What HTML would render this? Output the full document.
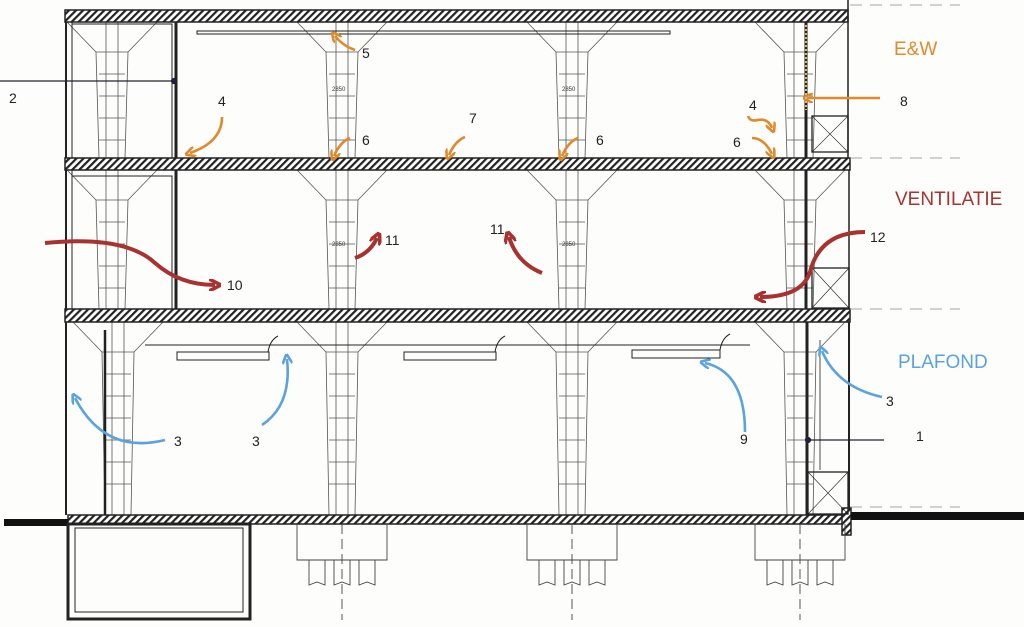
<!DOCTYPE html>
<html><head><meta charset="utf-8"><style>
html,body{margin:0;padding:0;background:#fdfdfb;}
svg{display:block}
text{font-family:"Liberation Sans","DejaVu Sans",sans-serif;}
</style></head><body>
<svg id="s" width="1024" height="627" viewBox="0 0 1024 627" xmlns="http://www.w3.org/2000/svg">
<defs>
<pattern id="h" width="5" height="5" patternUnits="userSpaceOnUse" patternTransform="rotate(45)">
<rect width="5" height="5" fill="#fff"/><rect width="2.2" height="5" fill="#222"/></pattern>
<marker id="ao" viewBox="0 0 10 10" refX="5" refY="5" markerWidth="4" markerHeight="4" orient="auto"><path d="M0,0 L10,5 L0,10" fill="none" stroke="#e08a2c" stroke-width="2.5"/></marker>
<marker id="ar" viewBox="0 0 10 10" refX="5" refY="5" markerWidth="3" markerHeight="3" orient="auto"><path d="M0,0 L10,5 L0,10" fill="none" stroke="#a83230" stroke-width="3"/></marker>
<marker id="ab" viewBox="0 0 10 10" refX="5" refY="5" markerWidth="4" markerHeight="4" orient="auto"><path d="M0,0 L10,5 L0,10" fill="none" stroke="#5aa3df" stroke-width="2.5"/></marker>
</defs>
<g id="cols" stroke="#555" stroke-width="0.8" fill="none"></g>
<!-- slabs -->
<g stroke="#222" stroke-width="1.5" fill="url(#h)">
<rect x="65" y="10" width="783" height="12"/>
<rect x="65" y="158" width="785" height="12"/>
<rect x="65" y="309" width="785" height="13"/>
<rect x="68" y="515" width="776" height="9"/>
<rect x="842" y="508" width="9" height="27"/>
</g>
<!-- ground -->
<rect x="4" y="519" width="64" height="7" fill="#111"/>
<rect x="851" y="512" width="173" height="8" fill="#111"/>
<!-- walls -->
<g stroke="#222" fill="none">
<line x1="66" y1="22" x2="66" y2="158" stroke-width="2"/>
<line x1="66" y1="170" x2="66" y2="309" stroke-width="2"/>
<line x1="66" y1="322" x2="66" y2="515" stroke-width="2"/>
<line x1="72" y1="22" x2="72" y2="158" stroke-width="1"/>
<line x1="72" y1="170" x2="72" y2="309" stroke-width="1"/>
<line x1="176" y1="22" x2="176" y2="158" stroke-width="3"/>
<line x1="176" y1="170" x2="176" y2="309" stroke-width="3"/>
<rect x="72" y="24" width="100" height="134" stroke-width="1"/>
<rect x="72" y="176" width="100" height="133" stroke-width="1"/>
<line x1="105" y1="330" x2="105" y2="515" stroke-width="2.5"/>
<line x1="806" y1="22" x2="806" y2="158" stroke-width="3"/>
<line x1="806" y1="170" x2="806" y2="309" stroke-width="3"/>
<line x1="807" y1="322" x2="807" y2="515" stroke-width="3"/>
<line x1="848" y1="0" x2="848" y2="158" stroke-width="1.5"/>
<line x1="849" y1="170" x2="849" y2="309" stroke-width="1.5"/>
<line x1="849" y1="322" x2="849" y2="508" stroke-width="2"/>
<rect x="812" y="116" width="36" height="36" stroke-width="1.3"/>
<path d="M812,116 L848,152 M848,116 L812,152" stroke-width="0.6"/>
<rect x="812" y="268" width="37" height="40" stroke-width="1.3"/>
<path d="M812,268 L849,308 M849,268 L812,308" stroke-width="0.6"/>
<rect x="808" y="472" width="40" height="42" stroke-width="1.3"/>
<path d="M808,472 L848,514 M848,472 L808,514" stroke-width="0.6"/>
<line x1="820" y1="340" x2="820" y2="470" stroke-width="0.8"/>
<!-- ceiling rails -->
<rect x="197" y="31" width="473" height="3" stroke-width="1"/>
<line x1="145" y1="345" x2="750" y2="345" stroke-width="1"/>
<rect x="177" y="352" width="92" height="8" stroke-width="1"/>
<rect x="404" y="352" width="92" height="8" stroke-width="1"/>
<rect x="632" y="350" width="88" height="8" stroke-width="1"/>
<path d="M268,352 q2,-12 10,-16 M495,352 q2,-12 10,-16 M720,350 q2,-12 10,-16" stroke-width="1"/>
<!-- basement -->
<rect x="68" y="524" width="182" height="95" stroke-width="3"/>
<rect x="75" y="528" width="168" height="84" stroke-width="1"/>
</g>
<g stroke="#444" fill="none" stroke-width="0.9" id="found"></g>
<!-- dashed grid lines -->
<g stroke="#888" stroke-dasharray="12,8" stroke-width="0.8">
<line x1="850" y1="158" x2="960" y2="158"/><line x1="850" y1="309" x2="960" y2="309"/>
<line x1="850" y1="5" x2="960" y2="5"/><line x1="850" y1="507" x2="960" y2="507"/>
</g>
<!-- leader lines -->
<g stroke="#223" stroke-width="1.2">
<line x1="0" y1="81" x2="174" y2="81"/><circle cx="174" cy="81" r="2.5" fill="#224"/>
<line x1="808" y1="440" x2="884" y2="440"/><circle cx="808" cy="440" r="2.5" fill="#224"/>
</g>
<!-- orange arrows -->
<g stroke="#e08a2c" stroke-width="2.6" fill="none" marker-end="url(#ao)">
<path d="M222,117 q0,25 -32,36"/>
<path d="M355,50 q-12,-4 -20,-14"/>
<path d="M350,138 q-10,4 -16,18"/>
<path d="M465,137 q-10,4 -16,18"/>
<path d="M578,138 q-10,4 -16,18"/>
<path d="M880,98 L808,98"/>
<path d="M748,116 q2,6 10,4 q10,-2 14,8"/>
<path d="M752,138 q12,0 20,16"/>
</g>
<line x1="806" y1="25" x2="806" y2="110" stroke="#e7b36a" stroke-width="2" stroke-dasharray="2,2"/>
<!-- red arrows -->
<g stroke="#a83230" stroke-width="4" fill="none" marker-end="url(#ar)">
<path d="M45,243 q80,-8 110,20 q25,22 60,22"/>
<path d="M355,258 q15,-5 22,-20"/>
<path d="M542,273 q-25,-10 -33,-36"/>
<path d="M865,232 q-45,0 -55,40 q-8,25 -50,25"/>
</g>
<!-- blue arrows -->
<g stroke="#5aa3df" stroke-width="2.6" fill="none" marker-end="url(#ab)">
<path d="M165,440 q-60,15 -90,-42"/>
<path d="M262,425 q30,-20 25,-66"/>
<path d="M745,432 q0,-60 -40,-69"/>
<path d="M882,397 q-45,-10 -60,-46"/>
</g>
<!-- labels -->
<g font-size="14" fill="#222">
<text x="9" y="103">2</text><text x="218" y="106">4</text><text x="362" y="58">5</text>
<text x="362" y="145">6</text><text x="469" y="123">7</text><text x="596" y="145">6</text>
<text x="749" y="110">4</text><text x="733" y="147">6</text><text x="900" y="106">8</text>
<text x="227" y="290">10</text><text x="385" y="245">11</text><text x="490" y="234">11</text>
<text x="870" y="242">12</text><text x="174" y="446">3</text><text x="252" y="446">3</text>
<text x="740" y="444">9</text><text x="886" y="406">3</text><text x="916" y="441">1</text>
</g>
<g font-size="6" fill="#333"><text x="332" y="91">2850</text><text x="562" y="91">2850</text><text x="332" y="246">2850</text><text x="562" y="246">2850</text></g>
<text x="894" y="55" font-size="19" fill="#e08a2c">E&amp;W</text>
<text x="895" y="205" font-size="19" fill="#a83230">VENTILATIE</text>
<text x="898" y="368" font-size="19" fill="#5aa3df">PLAFOND</text>
</svg>
<script>
var ns="http://www.w3.org/2000/svg",g=document.getElementById('cols'),f=document.getElementById('found');
function add(p,t,a){var e=document.createElementNS(ns,t);for(var k in a)e.setAttribute(k,a[k]);p.appendChild(e);}
var xs=[112,342,572,800],fl=[[22,158],[170,309],[322,515]];
xs.forEach(function(x,i){fl.forEach(function(r,j){
 if(i==0&&j==2)x=118;else if(i==0)x=112;
 var t=r[0],b=r[1],w=13,cw=45,ch=30;
 add(g,'path',{d:'M'+(x-cw)+','+t+' L'+(x-w-3)+','+(t+ch)+' L'+(x-w)+','+b+' M'+(x+cw)+','+t+' L'+(x+w+3)+','+(t+ch)+' L'+(x+w)+','+b});
 add(g,'path',{d:'M'+(x-w-3)+','+(t+ch)+' L'+(x+w+3)+','+(t+ch)+' M'+(x-6)+','+t+' L'+(x-6)+','+b+' M'+(x+6)+','+t+' L'+(x+6)+','+b});
 for(var y=t+ch+22;y<b-10;y+=22)add(g,'line',{x1:x-w,y1:y,x2:x+w,y2:y});
});});
[342,572,800].forEach(function(x){
 add(f,'path',{d:'M'+(x-45)+',524 L'+(x-45)+',560 L'+(x+45)+',560 L'+(x+45)+',524'});
 [-25,0,25].forEach(function(d){add(f,'path',{d:'M'+(x+d-8)+',560 L'+(x+d-8)+',585 L'+(x+d)+',582 L'+(x+d+8)+',585 L'+(x+d+8)+',560'});});
 add(f,'line',{x1:x,y1:524,x2:x,y2:620,'stroke-dasharray':'10,5'});
});
</script>
</body></html>
